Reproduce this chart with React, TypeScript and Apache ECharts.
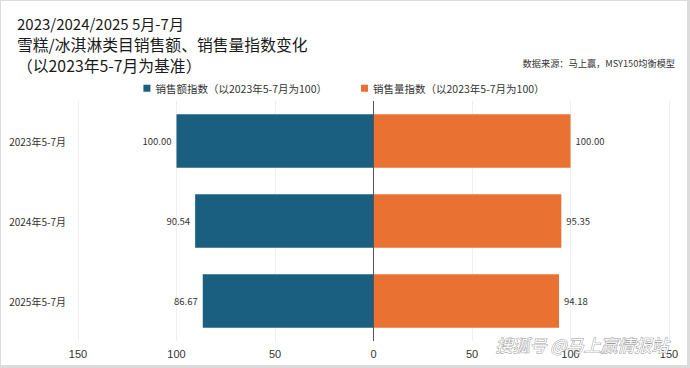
import React, { useEffect, useRef } from "react";
import * as echarts from "echarts";

const categories = ["2023年5-7月", "2024年5-7月", "2025年5-7月"];
const salesIndex = [100.0, 90.54, 86.67];
const volumeIndex = [100.0, 95.35, 94.18];
const salesName = "销售额指数（以2023年5-7月为100）";
const volumeName = "销售量指数（以2023年5-7月为100）";
const titleLine1 = "2023/2024/2025 5月-7月";
const titleLine2 = "雪糕/冰淇淋类目销售额、销售量指数变化";
const titleLine3 = "（以2023年5-7月为基准）";
const sourceText = "数据来源：马上赢，MSY150均衡模型";
const watermark = "搜狐号 @马上赢情报站";

const FONT = "'Noto Sans CJK SC', 'Noto Sans', sans-serif";

export default function App() {
  const ref = useRef<HTMLDivElement>(null);
  useEffect(() => {
    if (!ref.current) return;
    const chart = echarts.init(ref.current, undefined, { renderer: "svg" });
    chart.setOption({
      animation: false,
      backgroundColor: "#fff",
      textStyle: { fontFamily: FONT },
      title: {
        text: `{a|${titleLine1}}\n{b|${titleLine2}}\n{b|${titleLine3}}`,
        left: 11,
        top: 7,
        textStyle: {
          fontSize: 15,
          fontWeight: "normal",
          color: "#1a1a1a",
          lineHeight: 21,
          fontFamily: FONT,
          rich: {
            a: { fontSize: 15, lineHeight: 21, color: "#1a1a1a", fontFamily: FONT },
            b: { fontSize: 15.8, lineHeight: 21, color: "#1a1a1a", fontFamily: FONT },
          },
        },
      },
      legend: {
        top: 77,
        left: "center",
        itemWidth: 7,
        itemHeight: 7,
        itemGap: 34,
        icon: "rect",
        textStyle: { fontSize: 10.5, color: "#333", fontFamily: FONT },
        data: [salesName, volumeName],
      },
      graphic: [
        {
          type: "text",
          right: 12,
          top: 57,
          style: { text: sourceText, fontSize: 9.2, fill: "#333", fontFamily: FONT },
        },
        {
          type: "text",
          left: 494,
          top: 334,
          z: 100,
          style: {
            text: watermark,
            fontSize: 17,
            fill: "#ffffff",
            stroke: "#9a9a9a",
            lineWidth: 1,
            fontFamily: FONT,
            fontStyle: "italic",
          },
        },
      ],
      grid: { left: 77, right: 18, top: 100, bottom: 24 },
      xAxis: {
        type: "value",
        min: -150,
        max: 150,
        interval: 50,
        axisLine: { show: false },
        axisTick: { show: false },
        splitLine: { show: true, lineStyle: { color: "#eeeeee", width: 1 } },
        axisLabel: {
          fontSize: 11,
          color: "#333",
          margin: 7,
          fontFamily: "'Liberation Sans', Arial, sans-serif",
          formatter: (v: number) => String(Math.abs(v)),
        },
      },
      yAxis: {
        type: "category",
        data: categories,
        inverse: true,
        axisLine: { show: false },
        axisTick: { show: false },
        axisLabel: { fontSize: 10, color: "#333", margin: 12 },
      },
      series: [
        {
          name: salesName,
          type: "bar",
          stack: "total",
          barCategoryGap: "33%",
          data: salesIndex.map((v) => -v),
          itemStyle: { color: "#1B5F80" },
          label: {
            show: true,
            position: "left",
            distance: 5,
            fontSize: 9.5,
            color: "#333",
            formatter: (p: any) => Math.abs(p.value).toFixed(2),
          },
          markLine: {
            silent: true,
            symbol: "none",
            label: { show: false },
            lineStyle: { color: "#555", width: 1, type: "solid" },
            data: [{ xAxis: 0 }],
            z: 10,
          },
        },
        {
          name: volumeName,
          type: "bar",
          stack: "total",
          barCategoryGap: "33%",
          data: volumeIndex,
          itemStyle: { color: "#E97132" },
          label: {
            show: true,
            position: "right",
            distance: 5,
            fontSize: 9.5,
            color: "#333",
            formatter: (p: any) => Number(p.value).toFixed(2),
          },
        },
      ],
    });
    return () => chart.dispose();
  }, []);
  return (
    <div
      ref={ref}
      style={{
        position: "fixed",
        left: 0,
        top: 0,
        width: 690,
        height: 368,
        boxSizing: "border-box",
        border: "1px solid #dcdcdc",
        borderRightWidth: 3,
        borderBottomWidth: 3,
        background: "#fff",
      }}
    />
  );
}
